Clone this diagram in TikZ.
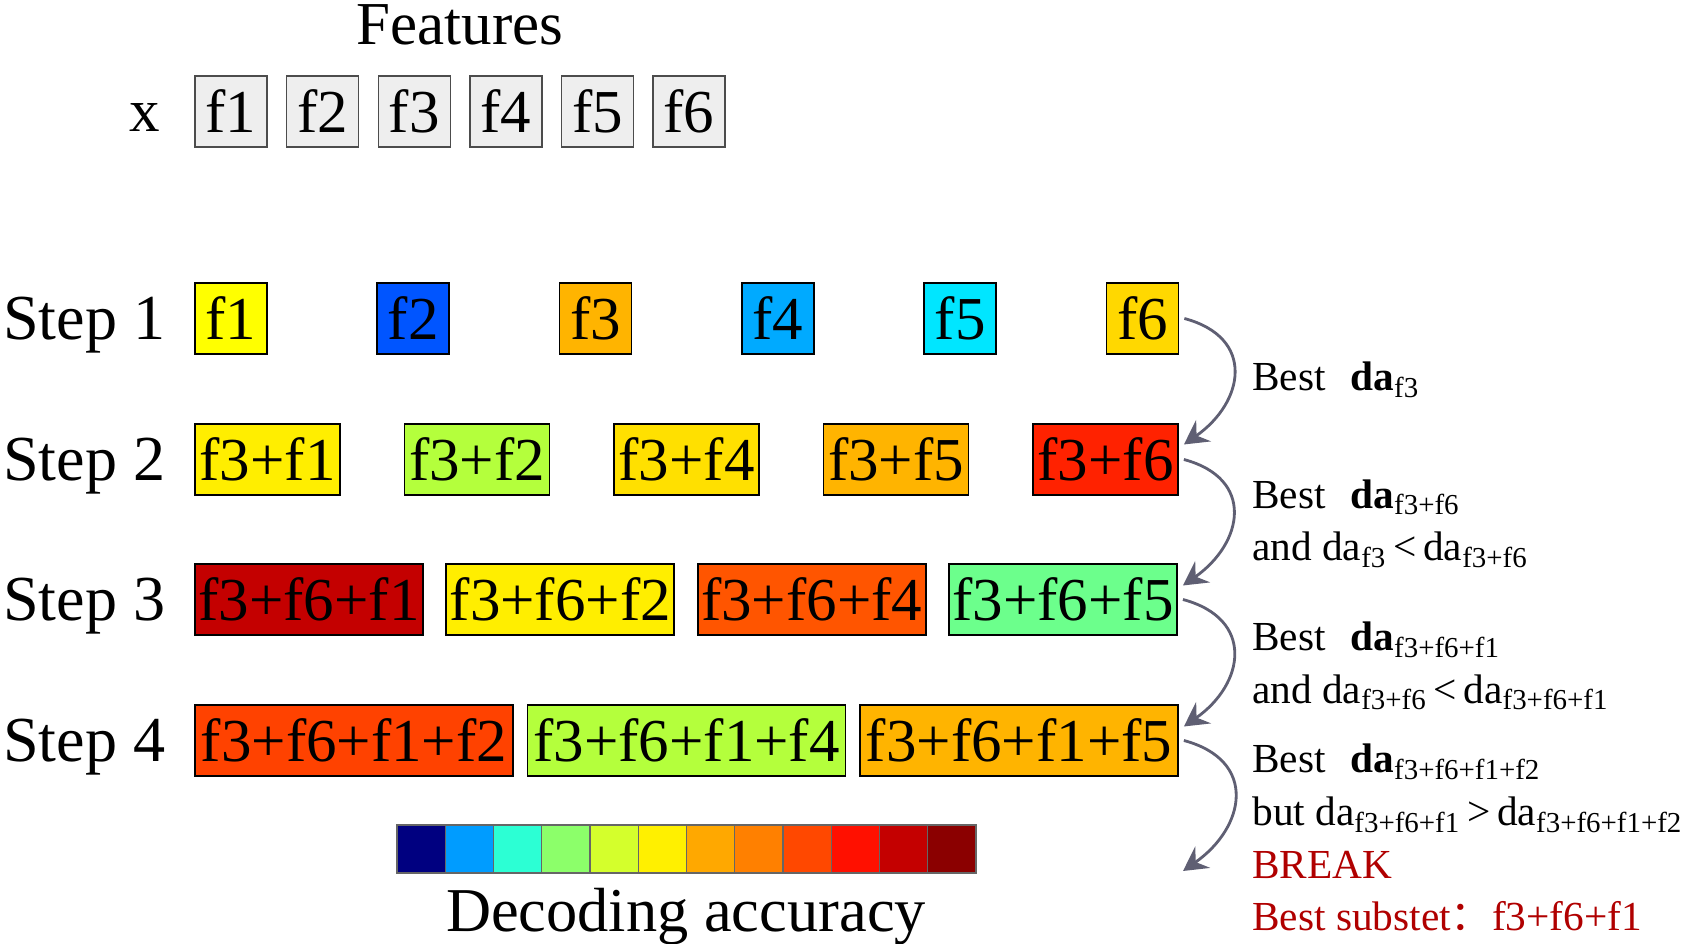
\documentclass[tikz,border=0pt]{standalone}
\usepackage{fontspec}
\setmainfont{Liberation Serif}
\newfontfamily\cjk{Noto Sans CJK SC}
\usetikzlibrary{arrows.meta,positioning}
\definecolor{featgray}{HTML}{EEEEEE}
\definecolor{arrgray}{HTML}{5F5F73}
\definecolor{brkred}{HTML}{B00000}
% box colours
\definecolor{cyel}{HTML}{FFFF00}
\definecolor{cyelb}{HTML}{FFEE00}
\definecolor{cgold}{HTML}{FFD800}
\definecolor{cgoldb}{HTML}{FFE000}
\definecolor{corg}{HTML}{FFB400}
\definecolor{cblue}{HTML}{0055FF}
\definecolor{csky}{HTML}{00AAFF}
\definecolor{ccyan}{HTML}{00E6FF}
\definecolor{clime}{HTML}{B4FF3C}
\definecolor{cmint}{HTML}{6CFF8C}
\definecolor{cred}{HTML}{FF2200}
\definecolor{cdred}{HTML}{C40000}
\definecolor{cver}{HTML}{FF5500}
\definecolor{cverb}{HTML}{FF4200}
% colour bar
\definecolor{jA}{HTML}{000080}
\definecolor{jB}{HTML}{009CFF}
\definecolor{jC}{HTML}{2CFFD4}
\definecolor{jD}{HTML}{8CFF6A}
\definecolor{jE}{HTML}{D4FF2C}
\definecolor{jF}{HTML}{FFF000}
\definecolor{jG}{HTML}{FFA800}
\definecolor{jH}{HTML}{FF8000}
\definecolor{jI}{HTML}{FF4800}
\definecolor{jJ}{HTML}{FF1000}
\definecolor{jK}{HTML}{C40000}
\definecolor{jL}{HTML}{8B0000}

\begin{document}
\begin{tikzpicture}[
  big/.style={font=\fontsize{34.7}{40}\selectfont},
  feat/.style={big,draw=black!70,fill=featgray,line width=0.8pt,inner sep=0pt,
    minimum width=1.44cm,minimum height=1.42cm},
  stepbox/.style={big,draw=black,line width=1pt,inner sep=0pt,minimum height=1.42cm},
  cell/.style={draw=black!60,line width=0.6pt,minimum width=0.965cm,minimum height=0.96cm,inner sep=0pt},
  arr/.style={-{Stealth[length=4.8mm,width=5.2mm,inset=1.7mm]},line width=1.6pt,arrgray},
  note/.style={anchor=west,align=left,inner sep=0pt,font=\fontsize{23.5}{30}\selectfont}
]
  \useasboundingbox (0,0) rectangle (33.74,18.88);
  \node[big,anchor=base] (feats) at (9.2,17.98) {Features};
  \node[big,anchor=base] (xlab) at (2.9,16.24) {x};
  \foreach \i in {1,...,6}
    \node[feat] (x\i) at ({4.62+1.832*(\i-1)},16.65) {f\i};
  % step labels
  \foreach \y [count=\i] in {12.51,9.69,6.89,4.07}
    \node[font=\fontsize{36.5}{40}\selectfont,anchor=base east] (step\i) at (3.43,\y-0.42) {Step \i};
  % step rows
  \foreach \lab/\col [count=\i] in {f1/cyel,f2/cblue,f3/corg,f4/csky,f5/ccyan,f6/cgold}
    \node[stepbox,minimum width=1.44cm,fill=\col] (s1\i) at ({4.62+3.646*(\i-1)},12.51) {\lab};
  \foreach \lab/\col [count=\i] in {f3+f1/cyelb,f3+f2/clime,f3+f4/cgoldb,f3+f5/corg,f3+f6/cred}
    \node[stepbox,minimum width=2.9cm,fill=\col] (s2\i) at ({5.35+4.19*(\i-1)},9.69) {\lab};
  \foreach \lab/\col [count=\i] in {f3+f6+f1/cdred,f3+f6+f2/cyelb,f3+f6+f4/cver,f3+f6+f5/cmint}
    \node[stepbox,minimum width=4.56cm,fill=\col] (s3\i) at ({6.18+5.027*(\i-1)},6.89) {\lab};
  \foreach \lab/\col [count=\i] in {f3+f6+f1+f2/cverb,f3+f6+f1+f4/clime,f3+f6+f1+f5/corg}
    \node[stepbox,minimum width=6.36cm,fill=\col] (s4\i) at ({7.08+6.65*(\i-1)},4.07) {\lab};
  % colour bar
  \foreach \c [count=\i] in {jA,jB,jC,jD,jE,jF,jG,jH,jI,jJ,jK,jL}
    \node[cell,fill=\c] (cb\i) at ({7.94+0.965*(\i-0.5)},1.9) {};
  \node[font=\fontsize{35.5}{40}\selectfont,anchor=base] (dacc) at (13.72,0.24) {Decoding accuracy};
  % arrows
  \coordinate (brk) at (23.66,1.46);
  \draw[arr] ([xshift=0.1cm]s16.east) to[out=-15,in=35,looseness=1.5] ([shift={(0.1cm,0.3cm)}]s25.east);
  \draw[arr] ([xshift=0.1cm]s25.east) to[out=-15,in=35,looseness=1.5] ([shift={(0.1cm,0.28cm)}]s34.east);
  \draw[arr] ([xshift=0.1cm]s34.east) to[out=-15,in=35,looseness=1.5] ([shift={(0.1cm,0.28cm)}]s43.east);
  \draw[arr] ([xshift=0.1cm]s43.east) to[out=-15,in=35,looseness=1.5] (brk);
  % notes
  \node[note] (n1) at (25.04,11.28) {Best\hspace{0.6em}\textbf{da}\textsubscript{f3}};
  \node[note] (n2) at (25.04,8.41) {Best\hspace{0.6em}\textbf{da}\textsubscript{f3+f6}\\
    and da\textsubscript{f3}\,<\,da\textsubscript{f3+f6}};
  \node[note] (n3) at (25.04,5.56) {Best\hspace{0.6em}\textbf{da}\textsubscript{f3+f6+f1}\\
    and da\textsubscript{f3+f6}\,<\,da\textsubscript{f3+f6+f1}};
  \node[note] (n4) at (25.04,2.125) {Best\hspace{0.6em}\textbf{da}\textsubscript{f3+f6+f1+f2}\\
    but da\textsubscript{f3+f6+f1}\,>\,da\textsubscript{f3+f6+f1+f2}\\
    \textcolor{brkred}{BREAK}\\
    \textcolor{brkred}{Best substet{\cjk ：}f3+f6+f1}};
\end{tikzpicture}
\end{document}
